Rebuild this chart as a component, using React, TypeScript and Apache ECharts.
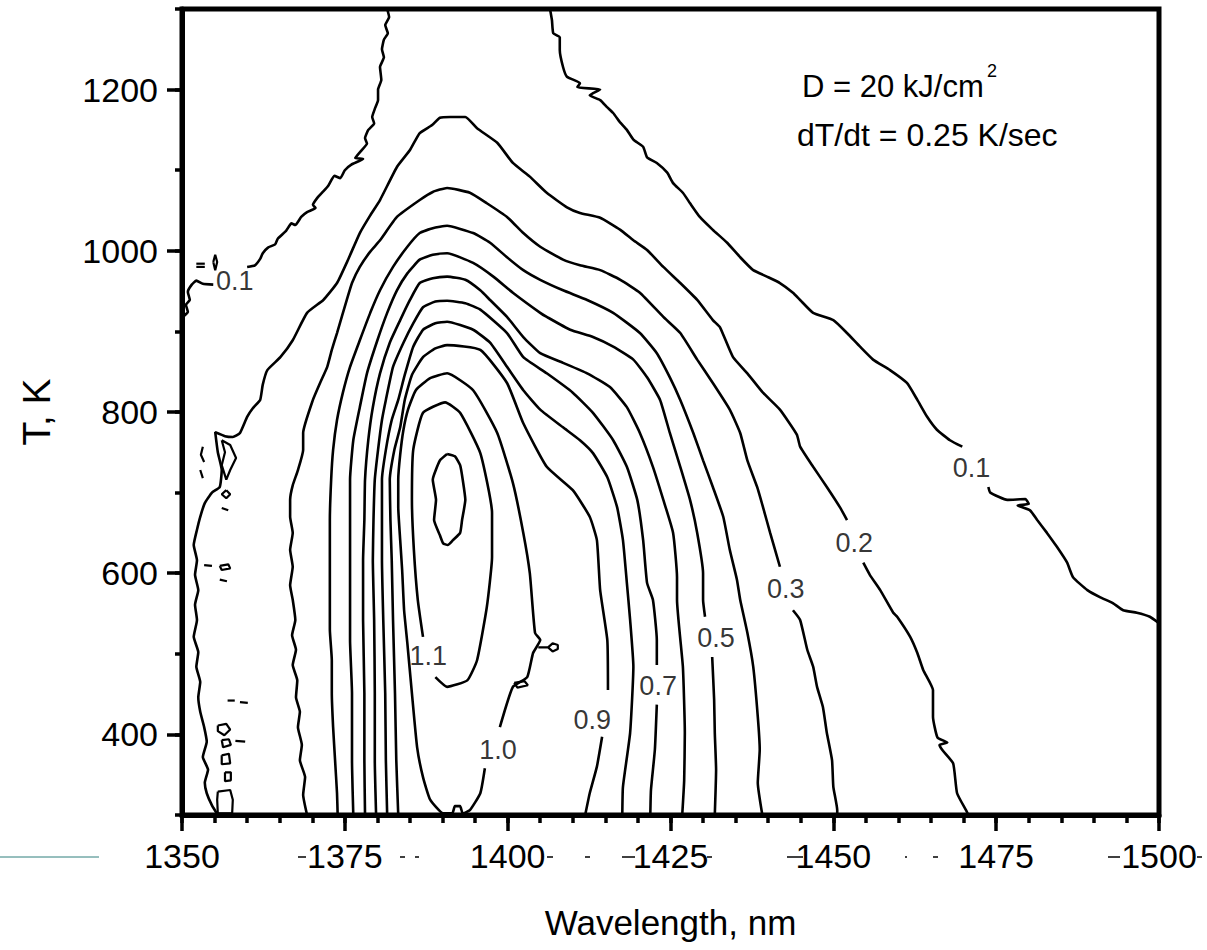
import React, { useEffect, useRef } from 'react';
import * as echarts from 'echarts';

// ---------- axes ----------
const xMin = 1350;
const xMax = 1500;
const yMin = 300;
const yMax = 1300;
const yMajorTicks = [400, 600, 800, 1000, 1200];
const yMinorTicks = [300, 400, 500, 600, 700, 800, 900, 1000, 1100, 1200, 1300];

// ---------- contour lines: [wavelength nm, T K] ----------
const level01a = [[1381.5,1300],[1381.8,1290],[1381.2,1280],[1381.6,1270],[1381.0,1262],[1380.7,1250],[1381.0,1240],[1380.4,1228],[1380.6,1212],[1380.1,1200],[1380.1,1187],[1379.6,1176],[1379.2,1166],[1379.5,1158],[1378.6,1150],[1378.1,1140],[1378.4,1133],[1377.5,1124],[1376.6,1115],[1377.8,1114],[1376.0,1107],[1375.0,1100],[1374.3,1090],[1373.4,1093],[1372.4,1080],[1371.6,1073],[1370.8,1066],[1370.1,1057],[1370.5,1053],[1369.2,1048],[1368.3,1042],[1367.4,1032],[1366.8,1034],[1366.0,1025],[1364.7,1015],[1364.3,1008],[1363.2,1004],[1362.4,997],[1362.0,990],[1361.2,982],[1360.0,980]];
const level01b = [[1354.8,958],[1353.2,959],[1352.2,963],[1351.5,958],[1350.9,949],[1351.2,939],[1350.6,933],[1350.9,924],[1350.3,919],[1350.0,914]];
const level01c = [[1406.5,1300],[1406.8,1286],[1407.0,1270],[1408.0,1265],[1408.0,1249],[1408.5,1228],[1409.1,1216],[1411.1,1208],[1410.7,1203],[1414.2,1200],[1412.6,1193],[1414.2,1187],[1415.3,1178],[1416.2,1171],[1417.3,1159],[1418.3,1150],[1419.3,1138],[1420.8,1129],[1421.4,1116],[1422.9,1109],[1424.5,1097],[1425.4,1084],[1426.9,1072],[1428.0,1059],[1429.5,1042],[1431.5,1026],[1433.7,1010],[1435.7,992],[1437.7,976],[1439.8,968],[1441.8,960],[1443.8,948],[1444.9,939],[1446.9,923],[1450.0,914],[1452.1,898],[1454.1,881],[1456.1,865],[1458.7,852],[1461.3,836],[1462.9,815],[1464.4,794],[1465.9,778],[1467.9,765],[1469.8,757]];
const level01d = [[1473.8,707],[1474.1,700],[1476.7,691],[1479.5,692],[1480.0,686],[1478.3,684],[1480.2,678],[1481.3,666],[1482.8,650],[1484.3,633],[1485.9,613],[1486.8,595],[1489.0,579],[1491.0,570],[1492.9,563],[1494.5,554],[1496.6,551],[1498.6,546],[1500.0,538]];
const level02a = [[1355.5,300],[1354.6,312],[1353.8,327],[1353.5,340],[1354.0,356],[1353.2,372],[1353.8,391],[1353.4,409],[1352.8,428],[1352.5,446],[1352.8,465],[1352.2,484],[1352.5,502],[1351.8,521],[1352.3,542],[1352.0,561],[1352.5,579],[1352.0,598],[1352.3,616],[1351.8,635],[1352.3,654],[1352.8,670],[1353.5,687],[1354.6,700],[1355.8,707],[1356.1,728],[1355.5,750],[1355.1,775],[1356.6,770],[1357.8,769],[1358.9,774],[1360.0,794],[1360.9,805],[1362.0,815],[1362.4,834],[1363.1,852],[1365.1,868],[1367.0,889],[1369.2,923],[1371.7,939],[1373.8,960],[1375.5,989],[1377.3,1022],[1378.9,1044],[1380.4,1063],[1383.0,1104],[1385.0,1125],[1386.5,1146],[1388.4,1156],[1389.6,1165],[1391.2,1166],[1393.5,1166],[1395.3,1152],[1398.4,1134],[1400.8,1109],[1403.4,1092],[1406.0,1072],[1409.1,1054],[1411.1,1047],[1414.2,1041],[1417.3,1026],[1419.3,1013],[1421.4,1001],[1423.9,980],[1426.5,960],[1429.1,939],[1431.5,914],[1432.6,905],[1434.6,868],[1436.8,848],[1439.2,824],[1441.8,803],[1444.4,772],[1444.9,757],[1446.9,732],[1449.0,707],[1451.0,682],[1452.1,666]];
const level02b = [[1454.6,613],[1455.6,598],[1457.2,579],[1459.2,551],[1459.8,546],[1461.8,521],[1462.9,501],[1463.8,480],[1465.3,455],[1465.3,422],[1466.0,396],[1467.5,390],[1466.3,387],[1466.8,380],[1468.4,364],[1469.0,327],[1470.5,304],[1470.7,300]];
const level03a = [[1369.2,300],[1368.6,325],[1368.9,347],[1368.1,368],[1368.4,387],[1367.8,409],[1368.1,428],[1367.5,446],[1367.7,467],[1367.0,486],[1367.5,505],[1366.9,523],[1367.4,542],[1367.0,567],[1366.6,585],[1367.0,608],[1366.6,629],[1367.0,650],[1366.6,670],[1366.6,691],[1367.0,709],[1367.8,728],[1368.6,753],[1368.6,774],[1370.1,815],[1371.2,836],[1372.3,856],[1373.0,877],[1373.8,898],[1375.3,939],[1376.1,960],[1377.3,980],[1378.9,999],[1380.4,1013],[1383.0,1042],[1386.5,1063],[1388.5,1073],[1390.7,1078],[1394.2,1072],[1396.8,1059],[1399.9,1042],[1402.4,1022],[1405.0,1005],[1408.5,989],[1411.1,982],[1414.2,976],[1417.3,964],[1420.3,948],[1423.9,918],[1426.5,898],[1429.1,865],[1431.5,836],[1434.1,803],[1435.7,774],[1436.8,740],[1438.3,707],[1439.2,682],[1440.3,650],[1441.8,608]];
const level03b = [[1443.8,554],[1444.9,542],[1446.0,505],[1446.9,484],[1447.5,459],[1448.4,434],[1449.0,402],[1449.8,368],[1450.0,335],[1450.6,306],[1450.6,300]];
const level04 = [[1373.9,300],[1373.8,327],[1373.5,368],[1373.2,409],[1373.0,451],[1373.0,492],[1372.7,530],[1372.7,567],[1372.7,616],[1372.7,666],[1372.9,716],[1373.2,753],[1373.8,790],[1374.7,824],[1375.8,856],[1377.3,889],[1378.9,923],[1380.4,951],[1382.4,980],[1384.6,1005],[1386.5,1022],[1388.5,1028],[1390.7,1031],[1394.7,1022],[1397.3,1010],[1399.9,992],[1402.4,976],[1405.0,964],[1408.5,951],[1412.2,939],[1416.2,923],[1420.3,898],[1422.9,873],[1424.9,843],[1426.5,815],[1428.5,774],[1430.0,740],[1431.5,707],[1433.1,670],[1434.1,629],[1435.2,592],[1435.7,567],[1436.8,526],[1437.7,484],[1438.4,422],[1438.7,381],[1438.4,340],[1439.1,300]];
const level05a = [[1376.3,300],[1376.1,368],[1376.1,451],[1375.8,517],[1375.8,567],[1375.8,616],[1375.8,666],[1375.8,716],[1376.3,765],[1377.3,806],[1378.4,848],[1380.0,889],[1381.5,923],[1383.0,951],[1384.6,972],[1386.5,989],[1388.5,995],[1390.7,997],[1394.7,985],[1397.8,968],[1400.8,948],[1405.0,923],[1406.0,918],[1409.6,902],[1413.1,893],[1416.2,881],[1419.3,865],[1421.4,843],[1423.4,815],[1424.9,774],[1426.5,732],[1428.0,691],[1429.1,650],[1430.0,600],[1430.0,567],[1430.3,546]];
const level05b = [[1431.4,496],[1431.7,443],[1431.8,402],[1432.0,356],[1431.8,300]];
const level06 = [[1378.1,300],[1378.0,368],[1378.0,451],[1377.8,542],[1377.8,616],[1378.0,666],[1378.1,716],[1378.6,765],[1379.3,806],[1380.4,848],[1381.9,886],[1383.5,914],[1385.0,939],[1386.5,960],[1388.5,966],[1390.7,968],[1393.5,964],[1395.8,951],[1397.3,939],[1399.9,918],[1402.4,893],[1405.0,873],[1408.5,861],[1412.2,848],[1415.7,831],[1418.3,806],[1420.3,774],[1422.3,732],[1423.9,691],[1425.4,650],[1426.0,595],[1426.0,567],[1426.9,484],[1427.2,402],[1427.1,343],[1426.8,300]];
const level07a = [[1379.8,300],[1379.6,368],[1379.6,451],[1379.5,542],[1379.3,616],[1379.4,666],[1379.6,716],[1380.1,753],[1380.7,790],[1381.3,815],[1382.4,856],[1384.0,886],[1385.5,910],[1387.0,930],[1388.9,937],[1390.7,938],[1393.5,935],[1395.8,927],[1399.9,898],[1402.4,868],[1406.0,848],[1410.0,824],[1413.1,799],[1416.2,765],[1418.3,732],[1419.9,691],[1420.8,641],[1421.4,588],[1422.3,567],[1422.9,517],[1422.9,486]];
const level07b = [[1422.9,437],[1422.6,381],[1422.0,331],[1421.9,300]];
const level08 = [[1381.5,300],[1381.3,368],[1381.2,451],[1380.9,542],[1380.7,616],[1380.7,666],[1380.7,716],[1381.3,753],[1382.2,790],[1383.2,815],[1384.2,846],[1385.5,881],[1387.0,902],[1388.9,910],[1390.7,912],[1394.7,902],[1397.3,886],[1399.9,856],[1402.4,827],[1405.0,803],[1408.5,781],[1411.1,765],[1413.1,749],[1415.3,719],[1416.8,682],[1417.7,641],[1418.3,588],[1418.8,542],[1419.3,484],[1418.8,402],[1417.7,335],[1417.6,300]];
const level09a = [[1383.2,300],[1382.9,368],[1382.7,451],[1382.4,542],[1382.2,616],[1382.0,666],[1381.9,716],[1382.6,753],[1383.5,781],[1384.2,815],[1385.3,846],[1387.0,868],[1388.9,879],[1390.7,883],[1395.8,877],[1399.9,836],[1402.4,786],[1406.0,732],[1410.0,703],[1412.6,670],[1413.7,641],[1414.2,579],[1415.3,517],[1415.4,455]];
const level09b = [[1414.5,397],[1413.7,360],[1412.6,327],[1411.9,300]];
const level10 = [[1398.8,409],[1400.8,459],[1403.0,471],[1403.9,501],[1405.0,517],[1404.2,526],[1403.4,600],[1402.4,650],[1400.8,712],[1398.4,774],[1394.7,827],[1390.7,848],[1388.1,842],[1385.9,827],[1384.7,803],[1384.0,778],[1383.5,747],[1383.2,716],[1383.2,682],[1383.5,641],[1383.8,604],[1384.1,554],[1384.6,513],[1385.3,451],[1386.1,384],[1387.0,347],[1388.1,319],[1390.1,302],[1391.5,302],[1391.9,311],[1392.7,311],[1393.1,302],[1394.2,306],[1395.8,327],[1396.5,358]];
const level11 = [[1388.9,471],[1390.7,459],[1393.8,467],[1395.3,492],[1396.8,558],[1397.6,620],[1397.6,675],[1395.8,749],[1392.7,799],[1390.4,812],[1387.0,799],[1385.5,753],[1385.3,691],[1385.6,629],[1386.2,567],[1387.0,521]];
const level12 = [[1390.7,748],[1389.6,740],[1388.5,716],[1389.0,691],[1388.7,666],[1389.6,647],[1390.1,637],[1390.8,635],[1391.6,641],[1392.7,650],[1393.0,666],[1393.5,691],[1393.1,716],[1392.7,734],[1391.9,745],[1390.7,748]];

// small noisy fragments of the lowest level near the left edge, and blobs
const noiseFragments = [
  [[1354.8,986],[1355.1,995],[1355.4,986],[1355.1,976],[1354.8,986]],
  [[1352.2,984],[1353.5,984]],
  [[1352.2,980],[1353.5,980]],
  [[1356.1,765],[1357.4,759],[1358.3,743],[1357.4,728],[1356.8,716],[1356.1,734],[1356.6,750],[1356.1,765]],
  [[1353.2,757],[1352.9,747],[1353.4,738]],
  [[1352.8,728],[1353.2,718]],
  [[1356.8,703],[1357.4,698],[1356.8,693],[1356.1,698],[1356.8,703]],
  [[1356.1,681],[1357.1,678]],
  [[1353.4,610],[1354.6,609]],
  [[1355.8,609],[1357.1,611],[1357.4,606],[1356.1,604],[1355.8,609]],
  [[1355.8,592],[1356.9,590]],
  [[1357.0,442],[1358.1,442]],
  [[1358.9,440],[1360.1,439]],
  [[1358.2,392],[1359.7,391]],
  [[1355.5,411],[1356.8,413],[1357.4,406],[1356.5,399],[1355.5,404],[1355.5,411]],
  [[1356.1,393],[1357.2,394],[1357.5,387],[1356.3,384],[1356.1,393]],
  [[1356.1,374],[1357.2,376],[1357.4,364],[1356.1,363],[1356.1,374]],
  [[1356.6,353],[1357.5,353],[1357.5,343],[1356.6,342],[1356.6,353]],
  [[1355.5,329],[1357.4,331],[1357.8,319],[1357.7,302],[1355.5,302],[1355.4,319],[1355.5,329]],
  [[1404.7,508],[1406.2,508],[1406.9,513],[1407.7,511],[1407.7,506],[1406.9,503],[1406.2,508]],
  [[1401.0,464],[1402.6,466],[1403.1,461],[1401.5,458],[1401.0,464]],
];

const contourSegments = [
  level01a, level01b, level01c, level01d,
  level02a, level02b, level03a, level03b,
  level04, level05a, level05b, level06,
  level07a, level07b, level08, level09a, level09b,
  level10, level11, level12,
];

// contour labels
const labelTexts = ['0.1', '0.1', '0.2', '0.3', '0.5', '0.7', '0.9', '1.0', '1.1'];
const labelWavelengths = [1358.1, 1471.2, 1453.2, 1442.7, 1432.0, 1423.1, 1413.0, 1398.5, 1387.8];
const labelTemps = [963, 731, 637, 580, 520, 460, 418, 381, 497];

const FONT = '"Liberation Sans", Arial, Helvetica, sans-serif';
const plain = (v: number) => String(v);

export default function App() {
  const ref = useRef<HTMLDivElement>(null);

  useEffect(() => {
    if (!ref.current) return;
    const chart = echarts.init(ref.current, undefined, { renderer: 'svg' });

    const lineSeries = contourSegments.map((seg) => ({
      type: 'line',
      data: seg,
      symbol: 'none',
      showSymbol: false,
      smooth: 0.15,
      silent: true,
      xAxisIndex: 0,
      yAxisIndex: 0,
      lineStyle: { color: '#000', width: 2.6 },
      z: 3,
    }));
    const noiseSeries = noiseFragments.map((seg) => ({
      type: 'line',
      data: seg,
      symbol: 'none',
      showSymbol: false,
      silent: true,
      xAxisIndex: 0,
      yAxisIndex: 0,
      lineStyle: { color: '#000', width: 2.2 },
      z: 3,
    }));

    const dashes = [[298,306],[400,405],[415,419],[547,553],[585,590],[622,635],[707,712],[787,803],[905,907],[933,938],[1108,1120],[1197,1202]];

    chart.setOption({
      animation: false,
      backgroundColor: '#fff',
      grid: {
        left: 182, top: 9, width: 977, height: 806,
        show: true, borderColor: '#000', borderWidth: 5, backgroundColor: 'transparent',
      },
      xAxis: [
        {
          type: 'value', min: xMin, max: xMax, interval: 5, position: 'bottom',
          axisLine: { show: true, onZero: false, lineStyle: { color: '#000', width: 5 } },
          axisTick: { show: true, inside: false, length: 8, lineStyle: { color: '#000', width: 3.5 } },
          axisLabel: { show: false },
          splitLine: { show: false },
        },
        {
          type: 'value', min: xMin, max: xMax, interval: 25, position: 'bottom',
          axisLine: { show: false, onZero: false },
          axisTick: { show: true, inside: false, length: 16, lineStyle: { color: '#000', width: 3.5 } },
          axisLabel: { show: true, formatter: plain, fontSize: 34, color: '#000', fontFamily: FONT, margin: 24, showMinLabel: true, showMaxLabel: true },
          splitLine: { show: false },
          name: 'Wavelength, nm', nameLocation: 'middle', nameGap: 90,
          nameTextStyle: { fontSize: 35, color: '#000', fontFamily: FONT },
        },
      ],
      yAxis: [
        {
          type: 'value', min: yMin, max: yMax, position: 'left',
          axisLine: { show: true, onZero: false, lineStyle: { color: '#000', width: 5 } },
          axisTick: { show: true, inside: false, length: 7, customValues: yMinorTicks, lineStyle: { color: '#000', width: 3.5 } },
          axisLabel: { show: false },
          splitLine: { show: false },
        },
        {
          type: 'value', min: yMin, max: yMax, position: 'left',
          axisLine: { show: false, onZero: false },
          axisTick: { show: true, inside: false, length: 15, customValues: yMajorTicks, lineStyle: { color: '#000', width: 3.5 } },
          axisLabel: { show: true, customValues: yMajorTicks, formatter: plain, fontSize: 34, color: '#000', fontFamily: FONT, margin: 24 },
          splitLine: { show: false },
          name: 'T, K', nameLocation: 'middle', nameGap: 126, nameRotate: 90,
          nameTextStyle: { fontSize: 39, color: '#000', fontFamily: FONT },
        },
      ],
      series: [
        ...lineSeries,
        ...noiseSeries,
        {
          type: 'scatter',
          xAxisIndex: 0,
          yAxisIndex: 0,
          symbolSize: 1,
          silent: true,
          itemStyle: { color: 'rgba(0,0,0,0)' },
          data: labelTexts.map((t, i) => ({ name: t, value: [labelWavelengths[i], labelTemps[i]] })),
          label: { show: true, position: 'inside', formatter: '{b}', fontSize: 27, color: '#000', fontFamily: FONT },
          z: 4,
        },
      ],
      graphic: [
        { type: 'text', x: 802, y: 86, style: { text: 'D = 20 kJ/cm', fontSize: 31, fontFamily: FONT, fill: '#000', align: 'left', verticalAlign: 'middle' } },
        { type: 'text', x: 987, y: 71, style: { text: '2', fontSize: 18, fontFamily: FONT, fill: '#000', align: 'left', verticalAlign: 'middle' } },
        { type: 'text', x: 797, y: 135, style: { text: 'dT/dt = 0.25 K/sec', fontSize: 32, fontFamily: FONT, fill: '#000', align: 'left', verticalAlign: 'middle' } },
        { type: 'line', shape: { x1: 0, y1: 857, x2: 99, y2: 857 }, style: { stroke: '#2f7f7c', lineWidth: 1 } },
        ...dashes.map(([a, b]) => ({ type: 'line', shape: { x1: a, y1: 857, x2: b, y2: 857 }, style: { stroke: '#000', lineWidth: 1.5 } })),
      ],
    });

    return () => chart.dispose();
  }, []);

  return <div ref={ref} style={{ position: 'fixed', left: 0, top: 0, width: 1207, height: 950 }} />;
}
